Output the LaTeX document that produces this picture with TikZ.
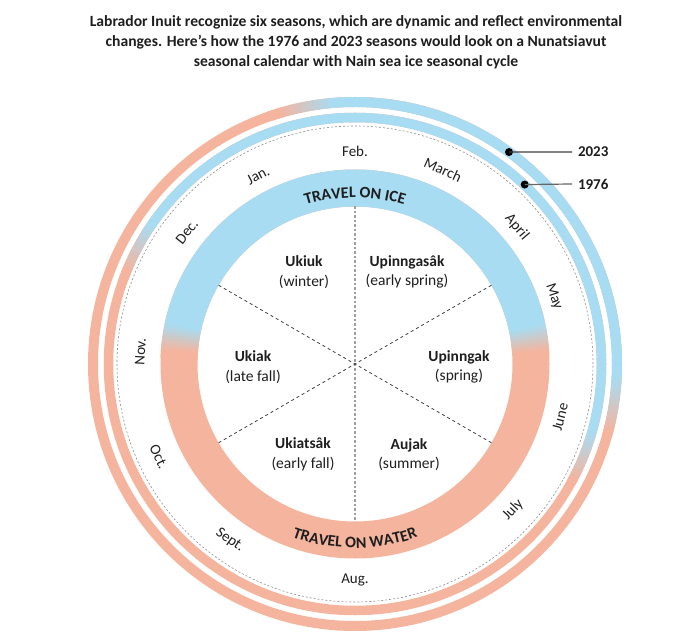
\documentclass[tikz,border=0pt]{standalone}
\usepackage{fontspec}
\setmainfont{Carlito}
\usetikzlibrary{decorations.text}
\definecolor{icec}{RGB}{168,220,242}
\definecolor{waterc}{RGB}{245,180,158}
\definecolor{inkc}{RGB}{30,30,30}
\newcommand\gradring[5]{%
  \draw[line width=#2pt, waterc] (0,0) circle[radius=#1pt];
  \pgfmathtruncatemacro\grS{#3-#5/2-1}
  \pgfmathtruncatemacro\grE{#4+#5/2+1}
  \foreach \a in {\grS,...,\grE}{%
    \pgfmathsetmacro\grM{\a+0.6}
    \pgfmathtruncatemacro\grF{100*max(0,min(1,min((\grM-(#3-#5/2))/#5,((#4+#5/2)-\grM)/#5)))}
    \draw[line width=#2pt, icec!\grF!waterc] (\a:#1pt) arc[start angle=\a, end angle=\a+1.25, radius=#1pt];
  }%
}
\tikzset{
  month/.style={font=\fontsize{15}{18}\selectfont, text=inkc, inner sep=0pt},
  season/.style={font=\fontsize{15.5}{19.5}\selectfont, text=inkc, align=center, inner sep=0pt},
  legendtxt/.style={font=\fontsize{15}{18}\selectfont\bfseries, text=inkc, anchor=west, inner sep=0pt, outer sep=6pt},
  legdot/.style={circle, fill=black, inner sep=0pt, minimum size=8pt},
}
\begin{document}
\begin{tikzpicture}
\useasboundingbox (-355pt,-275pt) rectangle (340pt,364pt);
% title
\node[font=\fontsize{15.6}{20}\selectfont\bfseries, text=inkc, align=center] (title) at (1pt,322pt)
 {Labrador Inuit recognize six seasons, which are dynamic and reflect environmental\\
  changes. Here’s how the 1976 and 2023 seasons would look on a Nunatsiavut\\
  seasonal calendar with Nain sea ice seasonal cycle};
% rings
\gradring{176}{37}{8}{172}{8}
\gradring{246.5}{9.5}{-22}{152}{12}
\gradring{262}{10}{-9}{101}{12}
\draw[gray!90, line width=0.6pt, dash pattern=on 2pt off 2pt] (0,0) circle[radius=238pt];
% band texts
\path[decorate, decoration={text along path, text align=center, text color=inkc,
  text={|\fontsize{16}{18}\selectfont\bfseries|TRAVEL ON ICE}}]
  (180:166.5pt) arc[start angle=180, end angle=0, radius=166.5pt];
\path[decorate, decoration={text along path, text align=center, text color=inkc,
  text={|\fontsize{16}{18}\selectfont\bfseries|TRAVEL ON WATER}}]
  (180:184pt) arc[start angle=180, end angle=360, radius=184pt];
% dividers
\coordinate (ctr) at (0,0);
\coordinate (vt) at (90:157.5pt);
\coordinate (vb) at (270:157.5pt);
\coordinate (d1a) at (30:157.5pt);
\coordinate (d1b) at (210:157.5pt);
\coordinate (d2a) at (150:157.5pt);
\coordinate (d2b) at (330:157.5pt);
\draw[gray!75, line width=1.4pt, dash pattern=on 2.5pt off 2pt] (vt) -- (vb);
\draw[black!75, line width=0.8pt, dash pattern=on 3pt off 3pt] (d1a) -- (d1b);
\draw[black!75, line width=0.8pt, dash pattern=on 3pt off 3pt] (d2a) -- (d2b);
% seasons
\node[season] (ukiuk) at (-51pt,92pt) {\textbf{Ukiuk}\\(winter)};
\node[season] (upinngasak) at (52pt,92pt) {\textbf{Upinngasâk}\\(early spring)};
\node[season] (ukiak) at (-102pt,-3pt) {\textbf{Ukiak}\\(late fall)};
\node[season] (upinngak) at (104pt,-3pt) {\textbf{Upinngak}\\(spring)};
\node[season] (ukiatsak) at (-52pt,-90.5pt) {\textbf{Ukiatsâk}\\(early fall)};
\node[season] (aujak) at (54pt,-90.5pt) {\textbf{Aujak}\\(summer)};
% months
\node[month, rotate=27.2] (jan) at (117.2:212pt) {Jan.};
\node[month] (feb) at (90:213pt) {Feb.};
\node[month, rotate=-24.4] (mar) at (65.6:213pt) {March};
\node[month, rotate=-49.8] (apr) at (40.2:212pt) {April};
\node[month, rotate=-71.3] (may) at (18.7:210pt) {May};
\node[month, rotate=75.5] (jun) at (-14.5:212pt) {June};
\node[month, rotate=47.3] (jul) at (-42.7:215pt) {July};
\node[month] (aug) at (-90:216pt) {Aug.};
\node[month, rotate=-35.4] (sep) at (-125.4:216pt) {Sept.};
\node[month, rotate=-64.7] (oct) at (-154.7:217pt) {Oct.};
\node[month, rotate=86.8] (nov) at (176.8:215pt) {Nov.};
\node[month, rotate=51.8] (dec) at (141.8:214pt) {Dec.};
% legend
\node[legdot] (d23) at (54:262pt) {};
\node[legdot] (d76) at (46.6:247pt) {};
\node[legendtxt] (l23) at (217pt,212pt) {2023};
\node[legendtxt] (l76) at (217pt,180pt) {1976};
\draw[black!75, line width=1.2pt] (d23.center) -- (l23.west);
\draw[black!60, line width=1.2pt] (d76.center) -- (l76.west);
\end{tikzpicture}
\end{document}
